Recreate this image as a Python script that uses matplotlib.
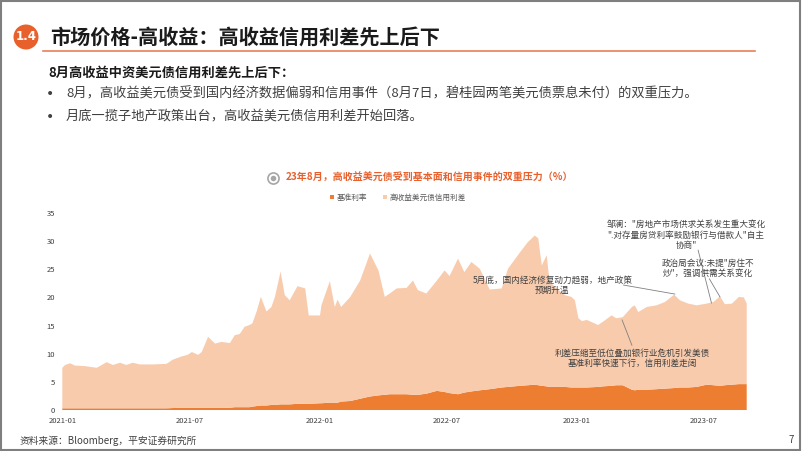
import matplotlib
matplotlib.use("Agg")
import matplotlib.pyplot as plt
import matplotlib.dates as mdates
import matplotlib.patches as patches
import pandas as pd

plt.rcParams['font.family'] = ['Noto Sans CJK SC', 'DejaVu Sans']

# ---- data ----
dates = [
    "2021-01-01", "2021-01-05", "2021-01-12", "2021-01-19", "2021-02-02", "2021-02-19",
    "2021-03-05", "2021-03-14", "2021-03-24", "2021-04-02", "2021-04-11", "2021-04-21",
    "2021-05-10", "2021-05-29", "2021-06-07", "2021-06-19", "2021-06-28", "2021-07-04",
    "2021-07-13", "2021-07-18", "2021-07-27", "2021-08-06", "2021-08-15", "2021-08-27",
    "2021-09-03", "2021-09-10", "2021-09-17", "2021-09-24", "2021-09-28", "2021-10-04",
    "2021-10-10", "2021-10-18", "2021-10-25", "2021-10-30", "2021-11-07", "2021-11-13",
    "2021-11-20", "2021-12-01", "2021-12-12", "2021-12-17", "2022-01-02", "2022-01-04",
    "2022-01-16", "2022-01-23", "2022-01-27", "2022-02-01", "2022-02-14", "2022-02-28",
    "2022-03-14", "2022-03-26", "2022-04-04", "2022-04-11", "2022-04-21", "2022-05-05",
    "2022-05-14", "2022-05-21", "2022-06-02", "2022-06-17", "2022-06-28", "2022-07-05",
    "2022-07-17", "2022-07-26", "2022-08-05", "2022-08-17", "2022-08-31", "2022-09-17",
    "2022-09-26", "2022-10-13", "2022-10-24", "2022-11-03", "2022-11-08", "2022-11-13",
    "2022-11-20", "2022-11-24", "2022-12-04", "2022-12-16", "2022-12-25", "2022-12-30",
    "2023-01-04", "2023-01-09", "2023-01-16", "2023-02-01", "2023-02-08", "2023-02-20",
    "2023-02-27", "2023-03-08", "2023-03-21", "2023-03-25", "2023-03-30", "2023-04-11",
    "2023-04-25", "2023-05-07", "2023-05-20", "2023-05-28", "2023-06-09", "2023-06-21",
    "2023-07-05", "2023-07-15", "2023-07-24", "2023-07-31", "2023-08-10", "2023-08-20",
    "2023-08-27", "2023-08-31",
]
base_rate = [
    0.3, 0.3, 0.3, 0.3, 0.3, 0.3,
    0.3, 0.3, 0.3, 0.3, 0.3, 0.3,
    0.3, 0.3, 0.35, 0.4, 0.4, 0.4,
    0.4, 0.4, 0.4, 0.4, 0.4, 0.4,
    0.5, 0.5, 0.5, 0.5, 0.6, 0.7,
    0.8, 0.8, 0.9, 0.9, 1.0, 1.0,
    1.0, 1.1, 1.1, 1.1, 1.2, 1.2,
    1.3, 1.3, 1.3, 1.5, 1.6, 2.0,
    2.4, 2.6, 2.7, 2.8, 2.8, 2.8,
    2.7, 2.7, 2.9, 3.4, 3.2, 3.0,
    2.8, 3.1, 3.3, 3.5, 3.7, 4.0,
    4.1, 4.3, 4.4, 4.5, 4.4, 4.3,
    4.2, 4.1, 4.1, 4.1, 4.0, 4.0,
    4.0, 4.0, 4.0, 4.1, 4.2, 4.3,
    4.4, 4.4, 3.6, 3.5, 3.6, 3.6,
    3.7, 3.8, 3.9, 4.0, 4.0, 4.1,
    4.5, 4.4, 4.3, 4.4, 4.5, 4.6,
    4.6, 4.6,
]
credit_spread = [
    7.2, 7.7, 8.0, 7.6, 7.5, 7.2,
    8.2, 7.7, 8.1, 7.7, 8.1, 7.8,
    7.8, 7.9, 8.6, 9.1, 9.4, 9.9,
    9.4, 9.9, 12.6, 11.4, 11.7, 11.5,
    12.8, 13.0, 14.3, 14.6, 14.8, 16.8,
    19.3, 16.7, 17.4, 19.2, 23.6, 19.4,
    18.5, 20.9, 20.5, 15.7, 15.6, 17.4,
    21.6, 17.0, 18.3, 16.8, 18.5, 21.0,
    25.4, 22.2, 17.4, 17.9, 18.8, 18.9,
    20.3, 18.6, 17.8, 19.6, 21.6, 20.8,
    24.1, 21.4, 23.0, 21.6, 17.7, 17.6,
    21.0, 23.7, 25.4, 26.5, 26.1, 21.4,
    23.3, 18.7, 17.5, 16.3, 16.1, 15.5,
    12.3, 11.8, 12.0, 11.0, 11.5, 12.5,
    11.9, 12.1, 14.7, 15.1, 13.8, 14.7,
    14.9, 15.4, 16.6, 15.5, 14.9, 14.5,
    14.4, 14.8, 15.9, 14.4, 14.4, 15.5,
    15.4, 14.3,
]
series_names = ["基准利率", "高收益美元债信用利差"]
x_ticks = ["2021-01", "2021-07", "2022-01", "2022-07", "2023-01", "2023-07"]
y_ticks = [0, 5, 10, 15, 20, 25, 30, 35]

# annotations: (text, text date, text y, line start date, line start y, line end date, line end y)
notes = [
    ('邹澜："房地产市场供求关系发生重大变化\n".对存量房贷利率鼓励银行与借款人"自主\n协商"',
     "2023-06-06", 31.1, "2023-06-23", 28.4, "2023-07-12", 19.0),
    ('政治局会议:未提"房住不\n炒"，强调供需关系变化',
     "2023-07-07", 25.2, "2023-07-09", 23.3, "2023-07-24", 20.1),
    ('5月底，国内经济修复动力趋弱，地产政策\n预期升温',
     "2022-11-28", 22.2, "2023-03-09", 22.2, "2023-05-21", 20.6),
    ('利差压缩至低位叠加银行业危机引发美债\n基准利率快速下行，信用利差走阔',
     "2023-03-21", 9.2, "2023-03-21", 11.5, "2023-03-07", 16.0),
]

ORANGE = '#ED7D31'
PEACH = '#F8CBAD'
ACCENT = '#E8602C'
GREY = '#404040'

fig = plt.figure(figsize=(8.02, 4.51), dpi=100)

# page frame
fig.patches.append(patches.Rectangle((0.001, 0.002), 0.997, 0.996, transform=fig.transFigure,
                                     fill=False, edgecolor='#7f7f7f', linewidth=1.5))

# header badge + title (badge placed in inches)
fig.patches.append(patches.Circle((0.26, 4.51 - 0.37), 0.125, transform=fig.dpi_scale_trans,
                                  facecolor=ACCENT, edgecolor='none'))
fig.text(26 / 802, 1 - 37 / 451, "1.4", color='white', fontsize=8.5, fontweight='bold',
         ha='center', va='center', family=['DejaVu Sans'])
fig.text(50 / 802, 1 - 37 / 451, "市场价格-高收益：高收益信用利差先上后下", fontsize=14.5,
         fontweight='bold', color='#1a1a1a', ha='left', va='center')
fig.add_artist(plt.Line2D([43 / 802, 755 / 802], [1 - 51 / 451, 1 - 51 / 451],
                          color='#E9805A', linewidth=1.2, transform=fig.transFigure))

fig.text(48 / 802, 1 - 73 / 451, "8月高收益中资美元债信用利差先上后下：", fontsize=9.5,
         fontweight='bold', color='#1a1a1a', ha='left', va='center')
bullets = ["8月，高收益美元债受到国内经济数据偏弱和信用事件（8月7日，碧桂园两笔美元债票息未付）的双重压力。",
           "月底一揽子地产政策出台，高收益美元债信用利差开始回落。"]
for i, b in enumerate(bullets):
    yy = 1 - (94 + 23 * i) / 451
    fig.text(50 / 802, yy, "•", fontsize=10, color=GREY, ha='center', va='center',
             family=['DejaVu Sans'])
    fig.text(66 / 802, yy, b, fontsize=9.5, color=GREY, ha='left', va='center')

# chart title with icon
fig.text(286 / 802, 1 - 178 / 451, "23年8月，高收益美元债受到基本面和信用事件的双重压力（%）",
         fontsize=7.2, fontweight='bold', color=ACCENT, ha='left', va='center')
fig.add_artist(plt.Line2D([273 / 802], [1 - 178 / 451], marker='o', markersize=8,
                          markerfacecolor='white', markeredgecolor='#a6a6a6', markeredgewidth=1.2,
                          transform=fig.transFigure))
fig.add_artist(plt.Line2D([273 / 802], [1 - 178 / 451], marker='o', markersize=4,
                          markerfacecolor='#a6a6a6', markeredgecolor='none',
                          transform=fig.transFigure))

# chart
x = pd.to_datetime(dates)
ax = fig.add_axes([62.3 / 802, 41 / 451, 684.4 / 802, 197 / 451])
ax.stackplot(x, base_rate, credit_spread, colors=[ORANGE, PEACH], labels=series_names,
             linewidth=0)

ax.set_xlim(pd.Timestamp("2021-01-01"), pd.Timestamp("2023-08-31"))
ax.set_ylim(0, 35)
ax.set_xticks(pd.to_datetime([t + "-01" for t in x_ticks]))
ax.xaxis.set_major_formatter(mdates.DateFormatter('%Y-%m'))
ax.set_yticks(y_ticks)
ax.tick_params(axis='both', length=0, labelsize=5.5, labelcolor=GREY, pad=5)
for s in ax.spines.values():
    s.set_visible(False)

ax.legend(loc='center', bbox_to_anchor=(398 / 802, 1 - 198 / 451), bbox_transform=fig.transFigure,
          ncol=2, frameon=False, fontsize=5.5, handlelength=0.5, handleheight=0.5,
          columnspacing=2.0, handletextpad=0.4, labelcolor='#595959')

for txt, tx, ty, x0, y0, x1, y1 in notes:
    ax.text(pd.Timestamp(tx), ty, txt, fontsize=6.2, color=GREY, ha='center', va='center',
            linespacing=1.15)
    ax.plot([pd.Timestamp(x0), pd.Timestamp(x1)], [y0, y1], color='#808080', linewidth=0.6)

# footer
fig.text(20 / 802, 1 - 441 / 451, "资料来源：Bloomberg，平安证券研究所", fontsize=7,
         color=GREY, ha='left', va='center')
fig.text(791 / 802, 1 - 440 / 451, "7", fontsize=7, color=GREY, ha='center', va='center')

fig.savefig("out.png", dpi=100)
